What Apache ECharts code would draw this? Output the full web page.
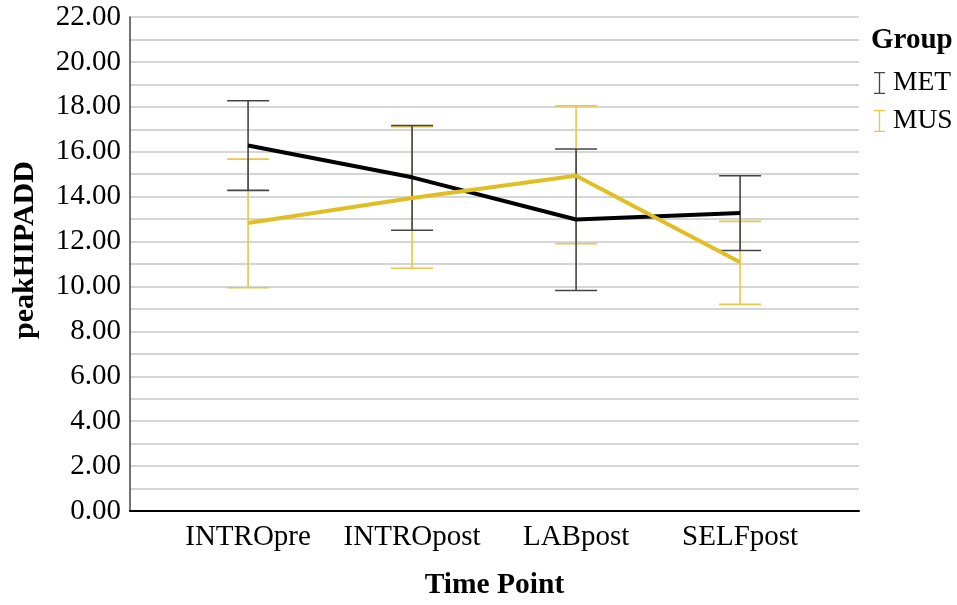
<!DOCTYPE html>
<html>
<head>
<meta charset="utf-8">
<script src="https://cdn.jsdelivr.net/npm/echarts@6/dist/echarts.min.js"></script>
<style>html,body{margin:0;padding:0;background:#fff;}#c{width:957px;height:605px;}</style>
</head>
<body>
<div id="c"></div>
<script>
const categories = ['INTROpre', 'INTROpost', 'LABpost', 'SELFpost'];
const metMean = [16.28, 14.86, 12.98, 13.27];
const metLow  = [14.28, 12.50, 9.82, 11.60];
const metHigh = [18.27, 17.17, 16.12, 14.93];
const musMean = [12.83, 13.94, 14.93, 11.08];
const musLow  = [9.94, 10.81, 11.90, 9.20];
const musHigh = [15.67, 17.11, 18.04, 12.90];
const yTicks = [0, 2, 4, 6, 8, 10, 12, 14, 16, 18, 20, 22];

const FONT = '"Liberation Serif", "Times New Roman", serif';
const MET_LINE = '#000000', MET_BAR = '#444444';
const MUS_LINE = '#E2BE25', MUS_BAR = '#E8C847';
const IBEAM = 'path://M0,0H10V1.2H5.6V18.8H10V20H0V18.8H4.4V1.2H0Z';

function pts(arr) { return arr.map((v, i) => [i, v]); }
function bars(lo, hi) { return lo.map((v, i) => [i, v, hi[i]]); }

function errRender(color) {
  return function (params, api) {
    const x = api.value(0);
    const lo = api.coord([x, api.value(1)]);
    const hi = api.coord([x, api.value(2)]);
    const hw = 21;
    const st = { stroke: color, lineWidth: 1.6 };
    return {
      type: 'group',
      children: [
        { type: 'line', shape: { x1: lo[0], y1: lo[1], x2: hi[0], y2: hi[1] }, style: st },
        { type: 'line', shape: { x1: lo[0] - hw, y1: lo[1], x2: lo[0] + hw, y2: lo[1] }, style: st },
        { type: 'line', shape: { x1: hi[0] - hw, y1: hi[1], x2: hi[0] + hw, y2: hi[1] }, style: st }
      ]
    };
  };
}

const chart = echarts.init(document.getElementById('c'));
chart.setOption({
  animation: false,
  backgroundColor: '#fff',
  textStyle: { fontFamily: FONT },
  title: {
    text: 'Group', left: 866, top: 21,
    textStyle: { fontFamily: FONT, fontSize: 29, fontWeight: 'bold', color: '#000' }
  },
  legend: {
    orient: 'vertical', left: 869, top: 64, itemGap: 10,
    itemWidth: 11, itemHeight: 24,
    textStyle: { fontFamily: FONT, fontSize: 27.5, color: '#000', padding: [0, 0, 0, 3] },
    data: [
      { name: 'MET', icon: IBEAM, itemStyle: { color: MET_BAR } },
      { name: 'MUS', icon: IBEAM, itemStyle: { color: MUS_BAR } }
    ]
  },
  grid: { left: 130, right: 98, top: 17, bottom: 93, containLabel: false },
  xAxis: {
    type: 'value', min: -0.72, max: 3.725,
    name: 'Time Point', nameLocation: 'middle', nameGap: 59,
    nameTextStyle: { fontFamily: FONT, fontSize: 29.5, fontWeight: 'bold', color: '#000' },
    axisLine: { show: true, onZero: false, lineStyle: { color: '#000', width: 2 } },
    axisTick: { show: false },
    splitLine: { show: false },
    axisLabel: {
      customValues: [0, 1, 2, 3],
      formatter: v => categories[Math.round(v)],
      fontFamily: FONT, fontSize: 29, color: '#000', margin: 12
    }
  },
  yAxis: {
    type: 'value', min: 0, max: 22, interval: 2,
    name: 'peakHIPADD', nameLocation: 'middle', nameGap: 90,
    nameTextStyle: { fontFamily: FONT, fontSize: 30, fontWeight: 'bold', color: '#000', padding: [0, 0, 0, 28] },
    axisLine: { show: true, onZero: false, lineStyle: { color: '#444', width: 1.5 } },
    axisTick: { show: false },
    axisLabel: {
      customValues: yTicks,
      formatter: v => v.toFixed(2), fontFamily: FONT, fontSize: 29, color: '#000', margin: 9
    },
    splitLine: { show: true, lineStyle: { color: '#c8c8c8', width: 1.5 } },
    minorTick: { show: false, splitNumber: 2 },
    minorSplitLine: { show: true, lineStyle: { color: '#c8c8c8', width: 1.5 } }
  },
  series: [
    { type: 'custom', name: 'MUS', data: bars(musLow, musHigh), renderItem: errRender(MUS_BAR), itemStyle: { color: MUS_BAR }, z: 2 },
    { type: 'custom', name: 'MET', data: bars(metLow, metHigh), renderItem: errRender(MET_BAR), itemStyle: { color: MET_BAR }, z: 2 },
    { type: 'line', name: 'MET', data: pts(metMean), symbol: 'none', lineStyle: { color: MET_LINE, width: 4 }, itemStyle: { color: MET_LINE }, z: 3 },
    { type: 'line', name: 'MUS', data: pts(musMean), symbol: 'none', lineStyle: { color: MUS_LINE, width: 4 }, itemStyle: { color: MUS_LINE }, z: 4 }
  ]
});
</script>
</body>
</html>
